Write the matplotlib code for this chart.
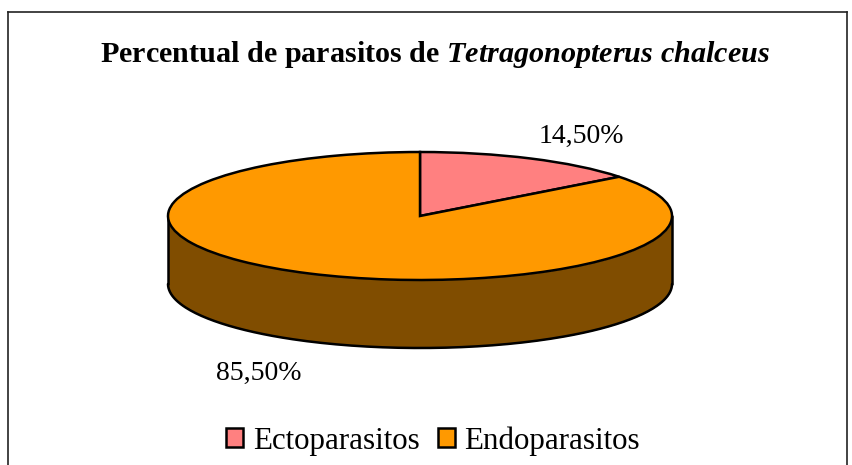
import numpy as np
import matplotlib
matplotlib.use("Agg")
import matplotlib.pyplot as plt
from matplotlib.lines import Line2D

categories = ["Ectoparasitos", "Endoparasitos"]
values = [14.5, 85.5]
value_labels = ["14,50%", "85,50%"]
title_plain = "Percentual de parasitos de "
title_species = r"$\mathit{Tetragonopterus\ chalceus}$"
colors = ["#FF8080", "#FF9900"]
side_color = "#804D00"

plt.rcParams["font.family"] = ["Liberation Serif"]
plt.rcParams["mathtext.fontset"] = "custom"
plt.rcParams["mathtext.it"] = "Liberation Serif:italic:bold"
plt.rcParams["mathtext.rm"] = "Liberation Serif:bold"

W, H = 852, 465
fig = plt.figure(figsize=(W / 100, H / 100), dpi=100, facecolor="white")

def fx(px): return px / W
def fy(py): return 1 - py / H

# chart frame (bottom edge lies outside the crop)
for xs, ys in [((8, 8), (12, 465)), ((8, 847), (12, 12)), ((847, 847), (12, 465))]:
    fig.add_artist(Line2D([fx(x) for x in xs], [fy(y) for y in ys], color="#222222", lw=1.2))

# pie axes: unit circle squashed to an ellipse, with room for the depth
left, right, top, centre, bottom = 168, 672, 152, 216, 348
ax = fig.add_axes([fx(left), fy(bottom), fx(right - left), (bottom - top) / H])
depth = (bottom - centre) / (centre - top) - 1

theta = np.linspace(np.pi, 2 * np.pi, 200)
ax.fill_between(np.cos(theta), np.sin(theta), np.sin(theta) - depth,
                color=side_color, lw=0, zorder=1)
line_style = dict(color="black", lw=1.8, zorder=2, clip_on=False, solid_capstyle="round")
ax.plot(np.cos(theta), np.sin(theta) - depth, **line_style)
ax.plot([-1, -1], [0, -depth], **line_style)
ax.plot([1, 1], [0, -depth], **line_style)

wedges, _ = ax.pie(values, colors=colors, startangle=90, counterclock=False, radius=1,
                   wedgeprops=dict(edgecolor="black", linewidth=1.8, zorder=3, clip_on=False))
ax.set_aspect("auto")
ax.set_xlim(-1, 1)
ax.set_ylim(-1 - depth, 1)
ax.axis("off")

fig.text(fx(434.5), fy(54.5), title_plain + title_species, fontsize=21.7, fontweight="bold",
         ha="center", va="center", color="black")
fig.text(fx(581), fy(136), value_labels[0], fontsize=20, ha="center", va="center", color="black")
fig.text(fx(259), fy(373), value_labels[1], fontsize=20, ha="center", va="center", color="black")

handles = [plt.Rectangle((0, 0), 1, 1, facecolor=c, edgecolor="black", linewidth=1.8) for c in colors]
fig.legend(handles, categories, loc="center", bbox_to_anchor=(fx(433), fy(441)), ncols=2,
           frameon=False, fontsize=22.3, handlelength=0.55, handleheight=0.55, handletextpad=0.32,
           columnspacing=0.58, borderpad=0, labelcolor="black")

fig.savefig("out.png", dpi=100)
